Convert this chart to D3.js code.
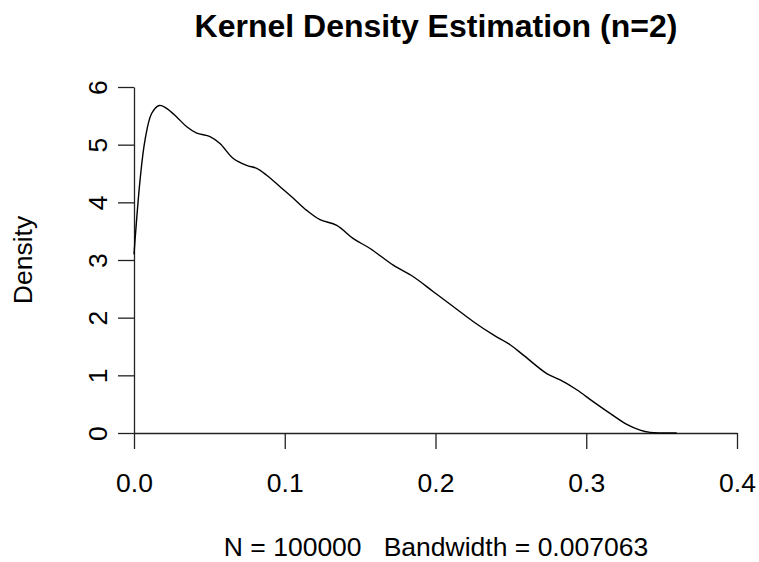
<!DOCTYPE html>
<html>
<head>
<meta charset="utf-8">
<script src="https://cdn.jsdelivr.net/npm/d3@7"></script>
<style>
  body { margin: 0; background: #fff; }
  svg { display: block; font-family: "Liberation Sans", Arial, sans-serif; }
</style>
</head>
<body>
<svg id="chart" width="759" height="562"></svg>
<script>
const titleText = "Kernel Density Estimation (n=2)";
const xLabelText = "N = 100000   Bandwidth = 0.007063";
const yLabelText = "Density";
const xTicks = [0, 0.1, 0.2, 0.3, 0.4];
const xTickLabels = ["0.0", "0.1", "0.2", "0.3", "0.4"];
const yTicks = [0, 1, 2, 3, 4, 5, 6];
const yTickLabels = ["0", "1", "2", "3", "4", "5", "6"];

const densityX = [0, 0.004, 0.0073, 0.0117, 0.0168, 0.0216, 0.0283, 0.035, 0.0416, 0.0504,
  0.057, 0.0659, 0.0747, 0.0814, 0.088, 0.0969, 0.1057, 0.1146, 0.1234, 0.1345, 0.1455,
  0.1566, 0.172, 0.1853, 0.1986, 0.2119, 0.2252, 0.2384, 0.2495, 0.2583, 0.2738, 0.2827,
  0.2937, 0.3048, 0.3158, 0.3269, 0.3357, 0.3424, 0.35, 0.36];
const densityY = [3.1, 4.38, 5.08, 5.54, 5.68, 5.63, 5.48, 5.31, 5.2, 5.14,
  5.02, 4.76, 4.64, 4.59, 4.47, 4.27, 4.07, 3.86, 3.7, 3.6, 3.37,
  3.2, 2.91, 2.71, 2.45, 2.19, 1.93, 1.7, 1.53, 1.35, 1.03, 0.92,
  0.75, 0.54, 0.34, 0.15, 0.05, 0.01, 0.0, 0.0];

const svg = d3.select("#chart");
const x = d3.scaleLinear().domain([0, 0.4]).range([134, 737]);
const y = d3.scaleLinear().domain([0, 6]).range([433, 87]);
const fontSize = 26.5;
const ff = "Liberation Sans, Arial, sans-serif";

// X axis
const gx = svg.append("g").attr("transform", "translate(0,433)")
  .call(d3.axisBottom(x).tickValues(xTicks).tickFormat((d, i) => xTickLabels[i])
    .tickSize(16).tickSizeOuter(0));
gx.select(".domain").attr("stroke", "#222").attr("stroke-width", 1.3);
gx.selectAll(".tick line").attr("stroke", "#222").attr("stroke-width", 1.3);
gx.selectAll(".tick text").attr("y", 59).attr("dy", 0)
  .attr("font-size", fontSize).attr("font-family", ff).attr("fill", "#000");

// Y axis
const gy = svg.append("g").attr("transform", "translate(134,0)")
  .call(d3.axisLeft(y).tickValues(yTicks).tickFormat((d, i) => yTickLabels[i])
    .tickSize(16).tickSizeOuter(0));
gy.select(".domain").attr("stroke", "#222").attr("stroke-width", 1.3);
gy.selectAll(".tick line").attr("stroke", "#222").attr("stroke-width", 1.3);
gy.selectAll(".tick text").attr("x", 0).attr("y", -27).attr("dy", 0)
  .attr("transform", "rotate(-90)").attr("text-anchor", "middle")
  .attr("font-size", fontSize).attr("font-family", ff).attr("fill", "#000");

// Curve
const pts = densityX.map((d, i) => [d, densityY[i]]);
const line = d3.line().x(d => x(d[0])).y(d => y(d[1])).curve(d3.curveCatmullRom.alpha(0.5));
svg.append("path").datum(pts)
  .attr("fill", "none").attr("stroke", "#000").attr("stroke-width", 1.4)
  .attr("d", line);

// Title
svg.append("text").attr("x", 436).attr("y", 37).attr("text-anchor", "middle")
  .attr("font-size", 32).attr("font-weight", "bold").attr("fill", "#000").text(titleText);

// X label (sub)
svg.append("text").attr("x", 436).attr("y", 556).attr("text-anchor", "middle")
  .attr("font-size", fontSize).attr("fill", "#000")
  .style("white-space", "pre").text(xLabelText);

// Y label
svg.append("text").attr("transform", "translate(32,260) rotate(-90)").attr("text-anchor", "middle")
  .attr("font-size", fontSize).attr("fill", "#000").text(yLabelText);
</script>
</body>
</html>
